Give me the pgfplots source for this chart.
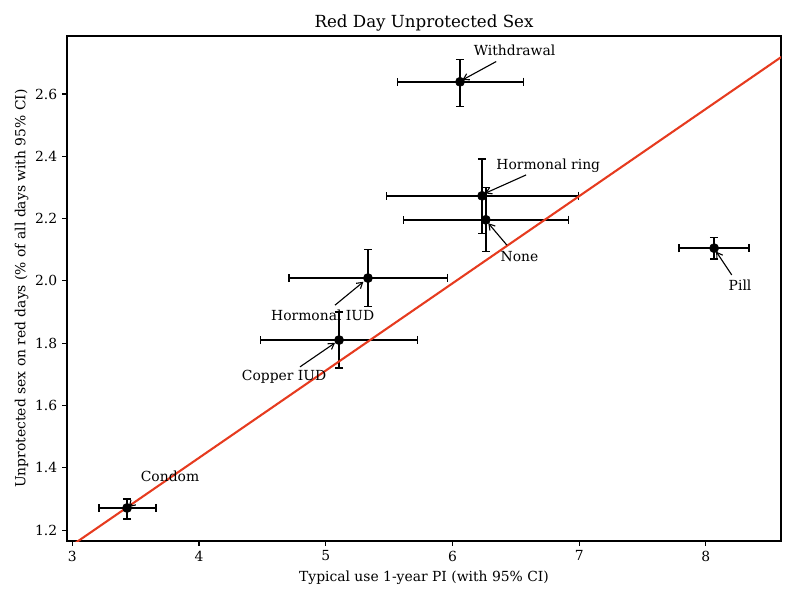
\documentclass[border=0pt]{standalone}
\usepackage{fontspec}
\setmainfont{DejaVu Serif}
\usepackage{pgfplots}
\usepackage{pgfplotstable}
\pgfplotsset{compat=1.18}
\usetikzlibrary{arrows.meta}
\definecolor{fitred}{HTML}{E63B1F}

% x y ex- ex+ ey- ey+
\pgfplotstableread{
x     y     exm   exp   eym   eyp
3.432 1.271 0.221 0.229 0.035 0.029
5.105 1.810 0.621 0.621 0.090 0.090
5.333 2.009 0.624 0.630 0.092 0.091
6.060 2.639 0.495 0.500 0.079 0.072
6.234 2.273 0.756 0.760 0.120 0.118
6.263 2.196 0.651 0.653 0.102 0.103
8.065 2.105 0.276 0.276 0.035 0.035
}\methods

\begin{document}
\begin{tikzpicture}[font=\fontsize{10}{12}\selectfont]
\useasboundingbox (0,0) rectangle (576pt,432pt);
\begin{axis}[
  at={(48.24pt,42.48pt)}, anchor=south west,
  scale only axis, width=514.1pt, height=363.6pt,
  xmin=2.958, xmax=8.593, ymin=1.165, ymax=2.786,
  xtick={3,4,5,6,7,8},
  ytick={1.2,1.4,1.6,1.8,2.0,2.2,2.4,2.6},
  yticklabel style={/pgf/number format/.cd, fixed, fixed zerofill, precision=1},
  /pgf/number format/assume math mode=true,
  tick align=outside, tick pos=left,
  major tick length=3.5pt,
  axis line style={line width=0.8pt},
  every tick/.style={black, line width=0.8pt},
  title={Red Day Unprotected Sex},
  title style={font=\fontsize{12}{14}\selectfont, yshift=-6pt},
  xlabel={Typical use 1-year PI (with 95\% CI)},
  ylabel={Unprotected sex on red days (\% of all days with 95\% CI)},
  ylabel style={yshift=-2pt},
  clip=true,
]
\addplot[only marks, mark=*, mark size=3.3pt, black,
  error bars/.cd, x dir=both, y dir=both, x explicit, y explicit,
  error bar style={line width=1.5pt, black},
  error mark options={rotate=90, line width=1pt, mark size=3pt, black}]
  table[x=x, y=y, x error minus=exm, x error plus=exp,
        y error minus=eym, y error plus=eyp] {\methods};
\addplot[fitred, line width=1.5pt] coordinates {(2.9,1.124) (8.7,2.748)};

\begin{scope}[-{Straight Barb[length=4pt,width=5pt]}, line width=0.8pt]
\draw (axis cs:6.345,2.704) -- (axis cs:6.079,2.645);
\draw (axis cs:6.581,2.340) -- (axis cs:6.257,2.281);
\draw (axis cs:6.429,2.115) -- (axis cs:6.283,2.185);
\draw (axis cs:8.204,2.019) -- (axis cs:8.081,2.094);
\draw (axis cs:5.073,1.922) -- (axis cs:5.297,1.997);
\draw (axis cs:4.797,1.724) -- (axis cs:5.073,1.801);
\draw (axis cs:3.470,1.284) -- (axis cs:3.445,1.274);
\end{scope}
\node[anchor=west, inner sep=0pt] at (axis cs:6.167,2.741) {Withdrawal};
\node[anchor=west, inner sep=0pt] at (axis cs:6.345,2.371) {Hormonal ring};
\node[anchor=west, inner sep=0pt] at (axis cs:6.378,2.078) {None};
\node[anchor=west, inner sep=0pt] at (axis cs:8.178,1.987) {Pill};
\node[inner sep=0pt] at (axis cs:4.976,1.890) {Hormonal IUD};
\node[inner sep=0pt] at (axis cs:4.671,1.692) {Copper IUD};
\node[inner sep=0pt] at (axis cs:3.771,1.373) {Condom};
\end{axis}
\end{tikzpicture}
\end{document}
